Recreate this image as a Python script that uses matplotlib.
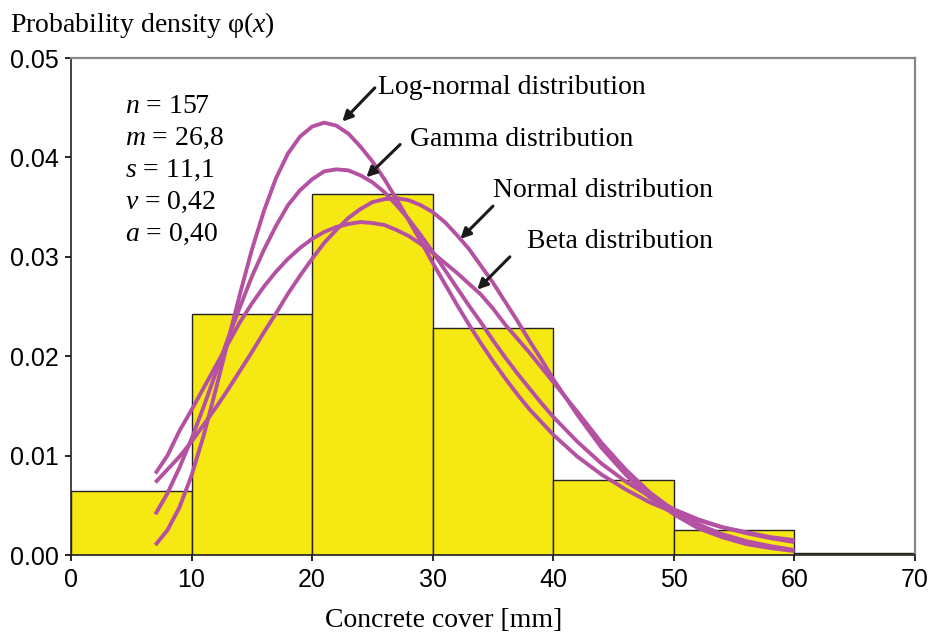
import matplotlib
matplotlib.use("Agg")
import matplotlib.pyplot as plt

plt.rcParams['font.family'] = ['Liberation Sans', 'DejaVu Sans']
plt.rcParams['mathtext.fontset'] = 'custom'
plt.rcParams['mathtext.rm'] = 'Liberation Serif'
plt.rcParams['mathtext.it'] = 'Liberation Serif:italic'

# histogram of concrete cover
bin_left = [0, 10, 20, 30, 40, 50, 60]
bin_height = [0.0064, 0.0242, 0.0363, 0.0228, 0.0075, 0.0025, 0.0002]

# fitted density curves
x_curve = [7, 8, 9, 10, 11, 12, 13, 14, 15, 16, 17, 18, 19, 20, 21, 22, 23,
           24, 25, 26, 27, 28, 29, 30, 31, 32, 33, 34, 35, 36, 37, 38, 39, 40,
           42, 44, 46, 48, 50, 52, 54, 56, 58, 60]
lognormal = [0.0010, 0.0025, 0.0048, 0.0080, 0.0120, 0.0166, 0.0214, 0.0262,
             0.0307, 0.0346, 0.0379, 0.0404, 0.0421, 0.0431, 0.0435, 0.0432,
             0.0424, 0.0411, 0.0396, 0.0378, 0.0358, 0.0337, 0.0316, 0.0294,
             0.0273, 0.0252, 0.0232, 0.0213, 0.0195, 0.0178, 0.0162, 0.0147,
             0.0134, 0.0121,
             0.0099, 0.0081, 0.0066, 0.0053, 0.0043, 0.0035, 0.0028, 0.0023,
             0.0018, 0.0015]
gamma = [0.0041, 0.0062, 0.0088, 0.0117, 0.0149, 0.0183, 0.0217, 0.0249,
         0.0280, 0.0307, 0.0331, 0.0352, 0.0367, 0.0378, 0.0386, 0.0388,
         0.0387, 0.0382, 0.0375, 0.0365, 0.0352, 0.0338, 0.0322, 0.0305,
         0.0287, 0.0269, 0.0251, 0.0234, 0.0216, 0.0199, 0.0183, 0.0168,
         0.0153, 0.0139,
         0.0114, 0.0092, 0.0074, 0.0059, 0.0046, 0.0036, 0.0028, 0.0022,
         0.0017, 0.0013]
normal = [0.0073, 0.0086, 0.0099, 0.0114, 0.0131, 0.0148, 0.0166, 0.0185,
          0.0204, 0.0224, 0.0243, 0.0263, 0.0281, 0.0298, 0.0314, 0.0327,
          0.0339, 0.0348, 0.0355, 0.0358, 0.0359, 0.0357, 0.0352, 0.0345,
          0.0335, 0.0322, 0.0308, 0.0291, 0.0274, 0.0255, 0.0236, 0.0216,
          0.0197, 0.0177,
          0.0141, 0.0108, 0.0081, 0.0058, 0.0041, 0.0027, 0.0018, 0.0011,
          0.0007, 0.0004]
beta = [0.0082, 0.0100, 0.0125, 0.0146, 0.0168, 0.0190, 0.0212, 0.0234,
        0.0253, 0.0270, 0.0285, 0.0298, 0.0309, 0.0318, 0.0325, 0.0330,
        0.0333, 0.0335, 0.0334, 0.0332, 0.0327, 0.0321, 0.0313, 0.0304,
        0.0294, 0.0284, 0.0273, 0.0262, 0.0248, 0.0232, 0.0218, 0.0204,
        0.0189, 0.0174,
        0.0144, 0.0113, 0.0086, 0.0063, 0.0045, 0.0031, 0.0021, 0.0014,
        0.0009, 0.0005]

stats = [r'$n$ = 157', r'$m$ = 26,8', r'$s$ = 11,1', r'$v$ = 0,42', r'$a$ = 0,40']

labels = ['Log-normal distribution', 'Gamma distribution',
          'Normal distribution', 'Beta distribution']
label_xy = [(25.5, 0.0470), (28.1, 0.0418), (35.0, 0.0367), (37.8, 0.0315)]
arrow_from = [(25.2, 0.0470), (27.3, 0.0413), (35.0, 0.0351), (36.4, 0.0300)]
arrow_to = [(22.5, 0.0436), (24.5, 0.0380), (32.3, 0.0318), (33.7, 0.0267)]

fig = plt.figure(figsize=(9.35, 6.32), dpi=100)
ax = fig.add_axes([0.0759, 0.1218, 0.9027, 0.7864])

ax.bar(bin_left, bin_height, width=10, align='edge', color='#F6E813',
       edgecolor='#222222', linewidth=1.0, zorder=2)

purple = '#B551A2'
for ys in [lognormal, gamma, normal, beta]:
    ax.plot(x_curve, ys, color=purple, lw=2.8, solid_joinstyle='round',
            solid_capstyle='butt', zorder=3)

for i, s in enumerate(stats):
    ax.text(4.5, 0.0451 - i * 0.00322, s, fontsize=20, va='center', ha='left',
            family='Liberation Serif')

for lab, lxy, a0, a1 in zip(labels, label_xy, arrow_from, arrow_to):
    ax.text(lxy[0], lxy[1], lab, fontsize=20, va='center', ha='left',
            family='Liberation Serif', zorder=5)
    ax.annotate('', xy=a1, xytext=a0,
                arrowprops=dict(arrowstyle='-|>,head_length=0.6,head_width=0.3',
                                color='#1a1a1a', lw=2.2, shrinkA=0, shrinkB=0),
                zorder=5)

ax.set_xlim(0, 70)
ax.set_ylim(0, 0.05)
ax.set_xticks(range(0, 71, 10))
ax.set_yticks([0, 0.01, 0.02, 0.03, 0.04, 0.05])
ax.set_yticklabels(['0.00', '0.01', '0.02', '0.03', '0.04', '0.05'])
ax.tick_params(axis='both', labelsize=18, direction='out', length=4, width=1.2,
               pad=5)
for sp in ['left', 'bottom']:
    ax.spines[sp].set_color('#222222')
    ax.spines[sp].set_linewidth(1.2)
for sp in ['top', 'right']:
    ax.spines[sp].set_color('#888888')
    ax.spines[sp].set_linewidth(1.6)

# x label sits left of the axes centre in the original
ax.set_xlabel('Concrete cover [mm]', fontsize=20, family='Liberation Serif',
              labelpad=12, x=0.441)
fig.text(10 / 935, 1 - 25 / 632, r'Probability density φ($x$)', fontsize=20,
         family='Liberation Serif', va='center', ha='left')

fig.savefig('out.png', dpi=100)
